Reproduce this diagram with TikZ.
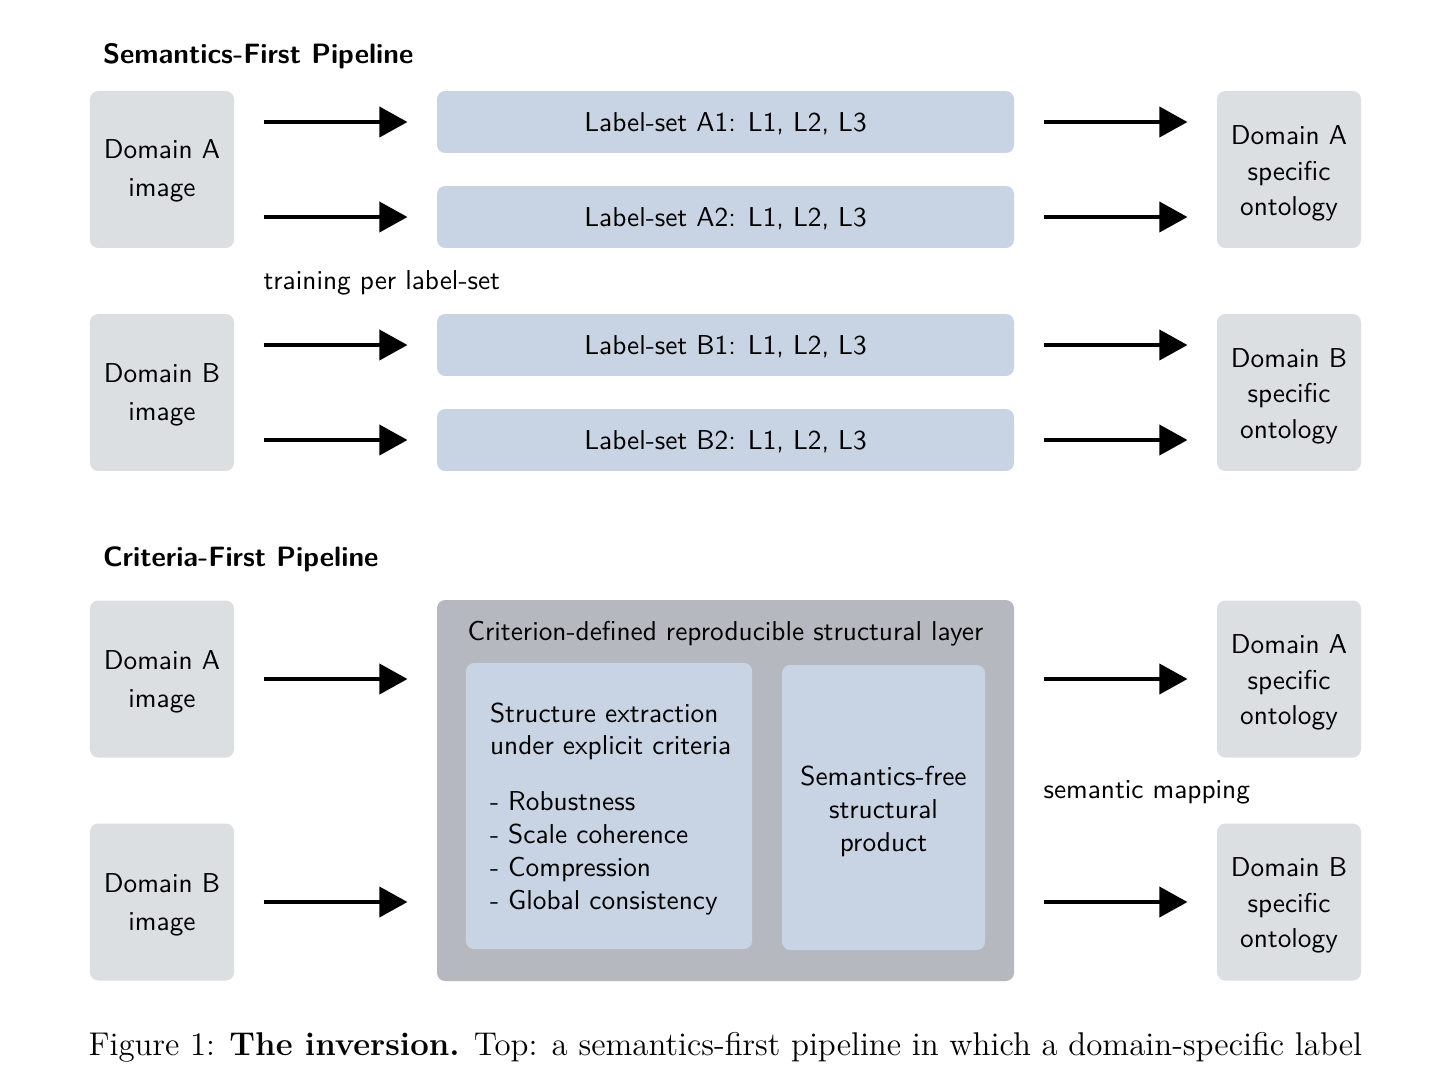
\documentclass[tikz,border=0pt]{standalone}
\usetikzlibrary{arrows.meta}
\def\PX{0.3663pt}
\definecolor{boxgray}{HTML}{DCDFE2}
\definecolor{boxblue}{HTML}{C8D3E3}
\definecolor{layergray}{HTML}{B5B8BF}
\newcommand\topstrut[1]{\rule{0pt}{#1}}
\begin{document}
\begin{tikzpicture}[x=\PX, y=-\PX,
  base/.style={rounded corners=3pt, inner sep=0pt, align=center, font=\sffamily},
  imgbox/.style={base, fill=boxgray, minimum width=52.75pt, minimum height=57.5pt},
  lblbox/.style={base, fill=boxblue, minimum width=211.35pt, minimum height=22.7pt},
  arr/.style={line width=1.47pt, -{Triangle[length=10.3pt, width=11pt]}, shorten <=10.62pt, shorten >=10.62pt},
  ttl/.style={inner sep=0pt, anchor=base west, font=\sffamily\bfseries\fontsize{10.25}{12}\selectfont},
  lbl/.style={inner sep=0pt, anchor=base west, font=\sffamily}]
\useasboundingbox (0,0) rectangle (1452,1072);
\fill[white] (0,0) rectangle (1452,1072);

% ---------- Semantics-first ----------
\node[ttl] (t1) at (102.5,63) {Semantics-First Pipeline};

\node[imgbox] (dA) at (162,169.5) {\topstrut{8.2pt}Domain A\\[2pt]image};
\node[imgbox] (dB) at (162,392.5) {\topstrut{8.4pt}Domain B\\[2pt]image};
\node[imgbox] (oA) at (1289,169.5) {\topstrut{9.9pt}Domain A\\[1pt]specific\\[1pt]ontology};
\node[imgbox] (oB) at (1289,392.5) {\topstrut{9.4pt}Domain B\\[1pt]specific\\[1pt]ontology};

\node[lblbox] (lA1) at (725.5,122) {\topstrut{8.4pt}Label-set A1: L1, L2, L3};
\node[lblbox] (lA2) at (725.5,217) {\topstrut{8.4pt}Label-set A2: L1, L2, L3};
\node[lblbox] (lB1) at (725.5,345) {\topstrut{8.4pt}Label-set B1: L1, L2, L3};
\node[lblbox] (lB2) at (725.5,440) {\topstrut{8.4pt}Label-set B2: L1, L2, L3};

\foreach \l/\d/\o in {lA1/dA/oA, lA2/dA/oA, lB1/dB/oB, lB2/dB/oB}{
  \draw[arr] (\l.west -| \d.east) -- (\l.west);
  \draw[arr] (\l.east) -- (\l.east -| \o.west);
}
\node[lbl] (tr) at (263,289) {training per label-set};

% ---------- Criteria-first ----------
\node[ttl] (t2) at (102.5,566) {Criteria-First Pipeline};

\node[imgbox] (cA) at (162,679) {\topstrut{9pt}Domain A\\[2pt]image};
\node[imgbox] (cB) at (162,902) {\topstrut{9pt}Domain B\\[2pt]image};
\node[imgbox] (pA) at (1289,679) {\topstrut{9.4pt}Domain A\\[1pt]specific\\[1pt]ontology};
\node[imgbox] (pB) at (1289,902) {\topstrut{9.4pt}Domain B\\[1pt]specific\\[1pt]ontology};

\node[base, fill=layergray, minimum width=211.35pt, minimum height=139.55pt] (layer) at (725.5,790.5) {};
\node[inner sep=0pt, font=\sffamily] (lt) at (725.5,633.5) {Criterion-defined reproducible structural layer};

\node[base, fill=boxblue, minimum width=104.8pt, minimum height=104.8pt] (ext) at (609,806) {};
\node[inner sep=0pt, anchor=base west, align=left, font=\sffamily] (extt) at (489.5,909)
  {Structure extraction\\under explicit criteria\\[8.5pt]- Robustness\\- Scale coherence\\- Compression\\- Global consistency};
\node[base, fill=boxblue, minimum width=74.4pt, minimum height=104.4pt] (prod) at (883.5,807.5)
  {\topstrut{9.9pt}Semantics-free\\structural\\product};

\draw[arr] (cA.east) -- (cA.east -| layer.west);
\draw[arr] (cB.east) -- (cB.east -| layer.west);
\draw[arr] (layer.east |- pA.west) -- (pA.west);
\draw[arr] (layer.east |- pB.west) -- (pB.west);
\node[lbl] (sm) at (1043,798) {semantic mapping};

% ---------- caption ----------
\node[inner sep=0pt, anchor=base west, font=\rmfamily\fontsize{12.05}{14}\selectfont] (cap) at (88,1055)
  {Figure 1: \textbf{The inversion.} Top: a semantics-first pipeline in which a domain-specific label};
\end{tikzpicture}
\end{document}
